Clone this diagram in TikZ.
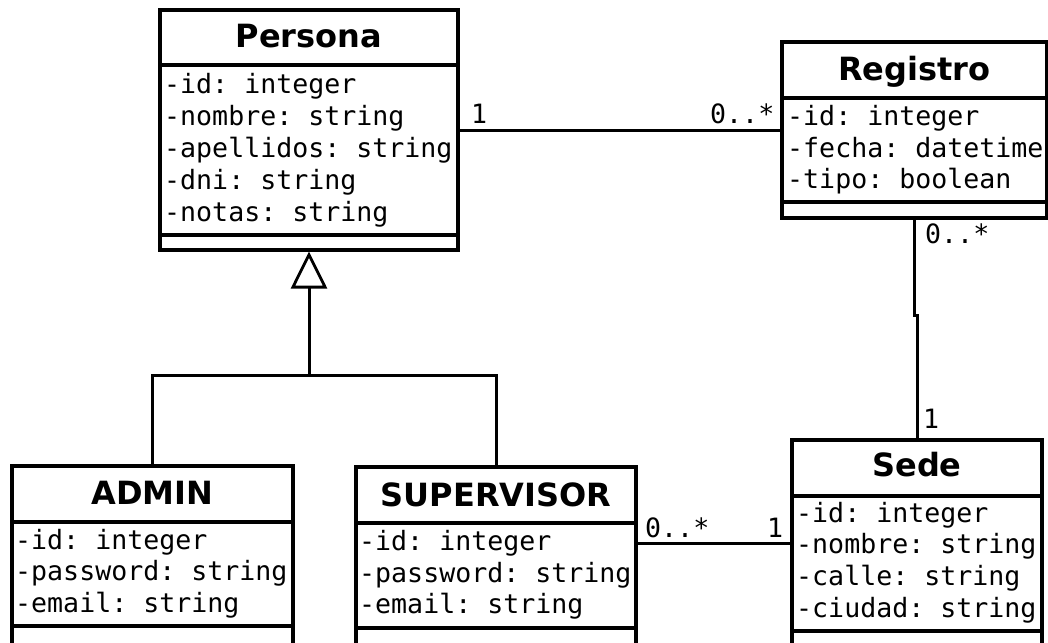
\documentclass[tikz,border=0pt]{standalone}
\usepackage{fontspec}
\setmonofont{DejaVu Sans Mono}
\newfontfamily\classfont{DejaVu Sans}
\usetikzlibrary{arrows.meta}

\begin{document}
\begin{tikzpicture}[x=1pt,y=-1pt,
  classbox/.style={draw=black,line width=3.5pt,fill=white,inner sep=0pt,outer sep=0pt,anchor=north west},
  sepline/.style={line width=3.5pt},
  classname/.style={inner sep=0pt,anchor=base,font=\classfont\bfseries\fontsize{32}{38}\selectfont},
  attr/.style={inner sep=0pt,anchor=base west,font=\ttfamily\fontsize{26.6}{32}\selectfont},
  mult/.style={inner sep=0pt,anchor=base west,font=\ttfamily\fontsize{26.6}{32}\selectfont},
  assoc/.style={line width=3pt},
  genline/.style={line width=3pt},
]
\useasboundingbox (0,0) rectangle (1048,642);
\clip (0,0) rectangle (1048,642);

% ---------- Persona ----------
\node[classbox,minimum width=298pt,minimum height=240pt] (persona) at (160,10) {};
\draw[sepline] (160,65) -- (458,65);
\draw[sepline] (160,235) -- (458,235);
\node[classname] (personaT) at (309,48) {Persona};
\node[attr] (personaA1) at (164,93)  {-id: integer};
\node[attr] (personaA2) at (164,125) {-nombre: string};
\node[attr] (personaA3) at (164,157) {-apellidos: string};
\node[attr] (personaA4) at (164,189) {-dni: string};
\node[attr] (personaA5) at (164,221) {-notas: string};

% ---------- Registro ----------
\node[classbox,minimum width=265pt,minimum height=176pt] (registro) at (782,42) {};
\draw[sepline] (782,98) -- (1047,98);
\draw[sepline] (782,202) -- (1047,202);
\node[classname] (registroT) at (914.5,81) {Registro};
\node[attr] (registroA1) at (787,125) {-id: integer};
\node[attr] (registroA2) at (787,157) {-fecha: datetime};
\node[attr] (registroA3) at (787,188) {-tipo: boolean};

% ---------- Sede ----------
\node[classbox,minimum width=250pt,minimum height=206pt] (sede) at (792,440) {};
\draw[sepline] (792,496) -- (1042,496);
\draw[sepline] (792,631) -- (1042,631);
\node[classname] (sedeT) at (917,476) {Sede};
\node[attr] (sedeA1) at (796,522) {-id: integer};
\node[attr] (sedeA2) at (796,553) {-nombre: string};
\node[attr] (sedeA3) at (796,585) {-calle: string};
\node[attr] (sedeA4) at (796,617) {-ciudad: string};

% ---------- ADMIN ----------
\node[classbox,minimum width=281pt,minimum height=200pt] (admin) at (12,466) {};
\draw[sepline] (12,522) -- (293,522);
\draw[sepline] (12,626) -- (293,626);
\node[classname] (adminT) at (152.5,504) {ADMIN};
\node[attr] (adminA1) at (15,549) {-id: integer};
\node[attr] (adminA2) at (15,580) {-password: string};
\node[attr] (adminA3) at (15,612) {-email: string};

% ---------- SUPERVISOR ----------
\node[classbox,minimum width=280pt,minimum height=200pt] (supervisor) at (356,467) {};
\draw[sepline] (356,523) -- (636,523);
\draw[sepline] (356,628) -- (636,628);
\node[classname] (supervisorT) at (496,506) {SUPERVISOR};
\node[attr] (supervisorA1) at (359,550) {-id: integer};
\node[attr] (supervisorA2) at (359,582) {-password: string};
\node[attr] (supervisorA3) at (359,613) {-email: string};

% ---------- Generalization ----------
\coordinate (genbar) at (309,375);
\draw[genline] (admin.north) |- (genbar) -| (supervisor.north);
\draw[genline,-{Triangle[open,length=37pt,width=36pt,line width=2.8pt]}] (genbar) -- ([yshift=-1.5pt]persona.south);

% ---------- Associations ----------
\draw[assoc] (persona.east) -- (registro.west);
\node[mult] (m1) at (471,123) {1};
\node[mult] (m2) at (710,123) {0..*};

\draw[assoc] (registro.south) -- ++(0,97) -| (sede.north);
\node[mult] (m3) at (925,243) {0..*};
\node[mult] (m4) at (923,428) {1};

\coordinate (supsede) at (700,543);
\draw[assoc] (supsede -| supervisor.east) -- (supsede -| sede.west);
\node[mult] (m5) at (645,537) {0..*};
\node[mult] (m6) at (767,537) {1};
\end{tikzpicture}
\end{document}
